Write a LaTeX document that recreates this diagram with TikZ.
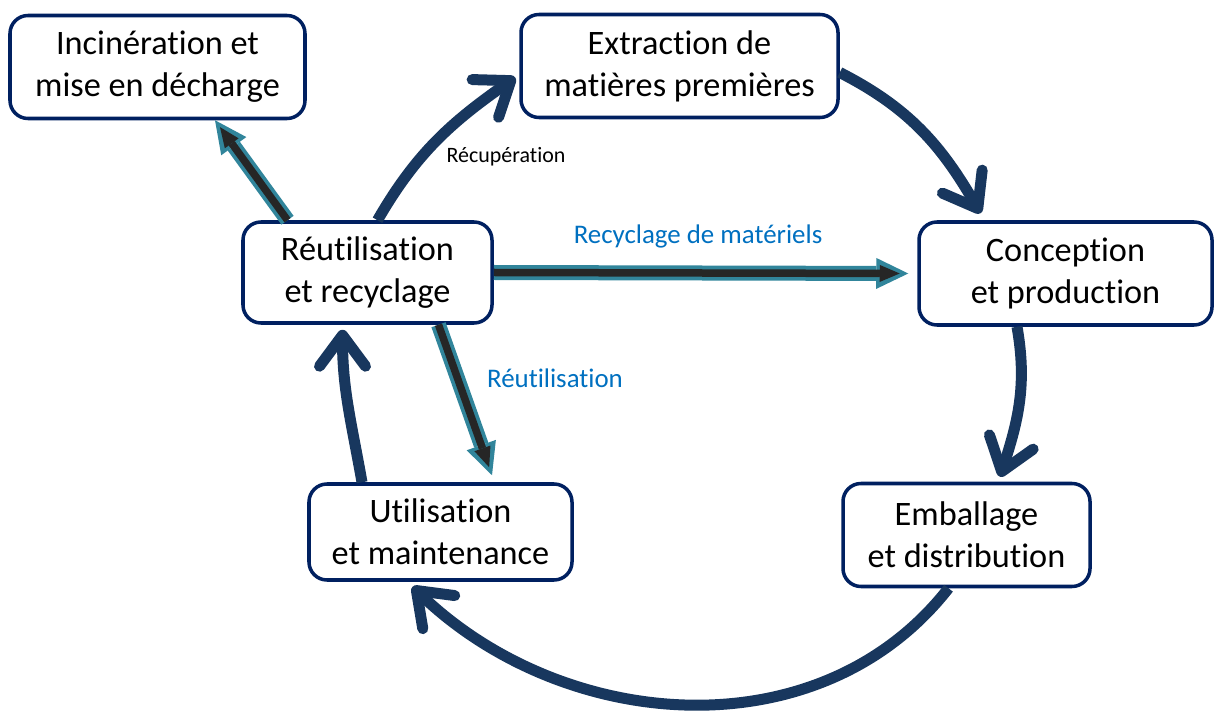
\documentclass[tikz,border=0pt]{standalone}
\usepackage{fontspec}
\setmainfont{Carlito}[Ligatures=NoCommon]
\usetikzlibrary{arrows.meta}
\definecolor{boxnavy}{RGB}{0,32,96}
\definecolor{arcnavy}{RGB}{24,55,94}
\definecolor{flowteal}{RGB}{49,133,155}
\definecolor{flowdark}{RGB}{38,38,38}
\definecolor{labelblue}{RGB}{0,112,192}

\begin{document}
\begin{tikzpicture}[
        box/.style={draw=boxnavy,line width=2pt,rounded corners=0.36cm,
            fill=white,align=center,inner sep=0pt,minimum height=2.06cm,
            font=\fontsize{19.5}{24}\selectfont},
        cyc/.style={draw=arcnavy,line width=0.22cm,
            -{Straight Barb[length=0.62cm,width=0.92cm,round]}},
        flowout/.style={draw=flowteal,line width=0.3cm,
            -{Triangle[length=0.64cm,width=0.62cm,line width=0pt]}},
        flowin/.style={draw=flowdark,line width=0.15cm,shorten >=0.17cm,
            -{Triangle[length=0.4cm,width=0.34cm,line width=0pt]}}]
\useasboundingbox (0,0) rectangle (24.28,-14.3);

\node[box,minimum width=5.9cm] (inc) at (3.15,-1.34) {Incinération et\\mise en décharge};
\node[box,minimum width=6.34cm] (extr) at (13.59,-1.32) {Extraction de\\matières premières};
\node[box,minimum width=4.98cm,minimum height=2.02cm] (reut) at (7.35,-5.45) {Réutilisation\\et recyclage};
\node[box,minimum width=5.86cm] (conc) at (21.31,-5.47) {Conception\\et production};
\node[box,minimum width=5.26cm,minimum height=1.92cm] (util) at (8.81,-10.64) {Utilisation\\et maintenance};
\node[box,minimum width=4.94cm] (emb) at (19.33,-10.7) {Emballage\\et distribution};

% the main cycle
\draw[cyc] ([yshift=-0.13cm]extr.east) to[out=-27,in=120] ([xshift=-1.7cm,yshift=0.14cm]conc.north);
\draw[cyc] ([xshift=-0.97cm]conc.south) to[out=-80,in=72] ([xshift=0.67cm,yshift=0.1cm]emb.north);
\draw[cyc] ([xshift=-0.36cm]emb.south) to[out=-128,in=-44] ([xshift=-0.56cm,yshift=-0.1cm]util.south);
\draw[cyc] ([xshift=-1.57cm]util.north) to[out=100,in=-90] ([xshift=-0.5cm,yshift=-0.1cm]reut.south);
\draw[cyc] ([xshift=0.2cm]reut.north) to[out=60,in=-145] ([xshift=-0.08cm,yshift=-0.23cm]extr.west);

% flows out of reuse
\draw[flowout] ([xshift=-1.6cm]reut.north) -- ([xshift=1.15cm]inc.south);
\draw[flowin] ([xshift=-1.6cm]reut.north) -- ([xshift=1.15cm]inc.south);
\draw[flowout] (reut.east) -- ([xshift=-0.18cm]conc.west);
\draw[flowin] (reut.east) -- ([xshift=-0.18cm]conc.west);
\draw[flowout] ([xshift=1.42cm]reut.south) -- ([xshift=1.03cm,yshift=0.14cm]util.north);
\draw[flowin] ([xshift=1.42cm]reut.south) -- ([xshift=1.03cm,yshift=0.14cm]util.north);

\node[font=\fontsize{12.5}{15}\selectfont] (recup) at (10.12,-3.14) {Récupération};
\node[font=\fontsize{15.3}{18}\selectfont,text=labelblue] (recyc) at (13.96,-4.72) {Recyclage de matériels};
\node[font=\fontsize{15.3}{18}\selectfont,text=labelblue] (reuse) at (11.1,-7.56) {Réutilisation};

\end{tikzpicture}
\end{document}
